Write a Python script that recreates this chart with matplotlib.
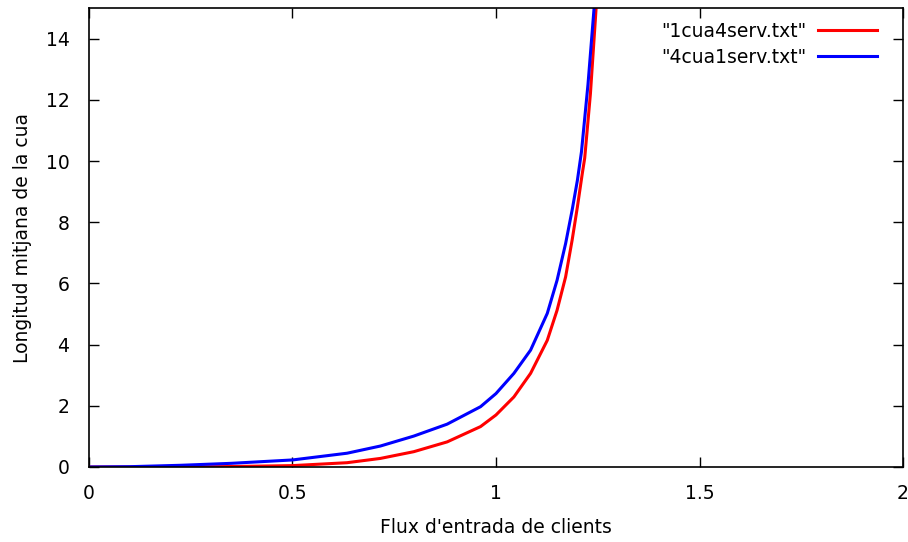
import matplotlib

matplotlib.use("Agg")
import matplotlib.pyplot as plt

# Arrival rate (x) and mean queue length (y)
flux_1cua4serv = [0.0, 0.224, 0.35, 0.5, 0.634, 0.716, 0.798, 0.880, 0.962,
                  1.0, 1.044, 1.085, 1.126, 1.150, 1.171, 1.187, 1.200, 1.212,
                  1.218, 1.232, 1.246, 1.255]
len_1cua4serv = [0.0, 0.0, 0.015, 0.045, 0.14, 0.28, 0.50, 0.82, 1.32,
                 1.70, 2.29, 3.06, 4.14, 5.12, 6.21, 7.41, 8.50, 9.59,
                 10.1, 12.2, 15.0, 16.8]

flux_4cua1serv = [0.0, 0.1, 0.224, 0.35, 0.5, 0.634, 0.716, 0.798, 0.880,
                  0.962, 1.0, 1.044, 1.085, 1.126, 1.150, 1.171, 1.187, 1.200,
                  1.210, 1.226, 1.241, 1.25]
len_4cua1serv = [0.0, 0.01, 0.055, 0.12, 0.23, 0.45, 0.685, 1.01, 1.40,
                 1.97, 2.40, 3.06, 3.82, 5.02, 6.10, 7.30, 8.39, 9.37,
                 10.3, 12.5, 15.0, 16.8]

series_labels = ['"1cua4serv.txt"', '"4cua1serv.txt"']
x_ticks = [0, 0.5, 1, 1.5, 2]
x_tick_labels = ["0", "0.5", "1", "1.5", "2"]
y_ticks = [0, 2, 4, 6, 8, 10, 12, 14]

plt.rcParams["font.family"] = ["DejaVu Sans"]
font_size = 13.5

fig = plt.figure(figsize=(9.08, 5.42), dpi=100)
ax = fig.add_axes([0.098, 0.1384, 0.8965, 0.8468])

ax.plot(flux_1cua4serv, len_1cua4serv, color="#ff0000", linewidth=2.2,
        label=series_labels[0])
ax.plot(flux_4cua1serv, len_4cua1serv, color="#0000ff", linewidth=2.2,
        label=series_labels[1])

ax.set_xlim(0, 2)
ax.set_ylim(0, 15)
ax.set_xticks(x_ticks)
ax.set_xticklabels(x_tick_labels)
ax.set_yticks(y_ticks)

ax.tick_params(direction="in", length=7, width=1, top=True, right=True,
               labelsize=font_size, colors="black")
ax.tick_params(axis="y", pad=14)
ax.tick_params(axis="x", pad=12)
for spine in ax.spines.values():
    spine.set_linewidth(1.2)

ax.set_xlabel("Flux d'entrada de clients", fontsize=font_size, labelpad=11)
ax.set_ylabel("Longitud mitjana de la cua", fontsize=font_size, labelpad=10)

ax.legend(loc="upper right", bbox_to_anchor=(0.9767, 0.986), frameon=False,
          markerfirst=False, fontsize=font_size, handlelength=3.1,
          handletextpad=0.64, labelspacing=0.35, borderaxespad=0.0)

fig.savefig("out.png", dpi=100)
plt.close(fig)
